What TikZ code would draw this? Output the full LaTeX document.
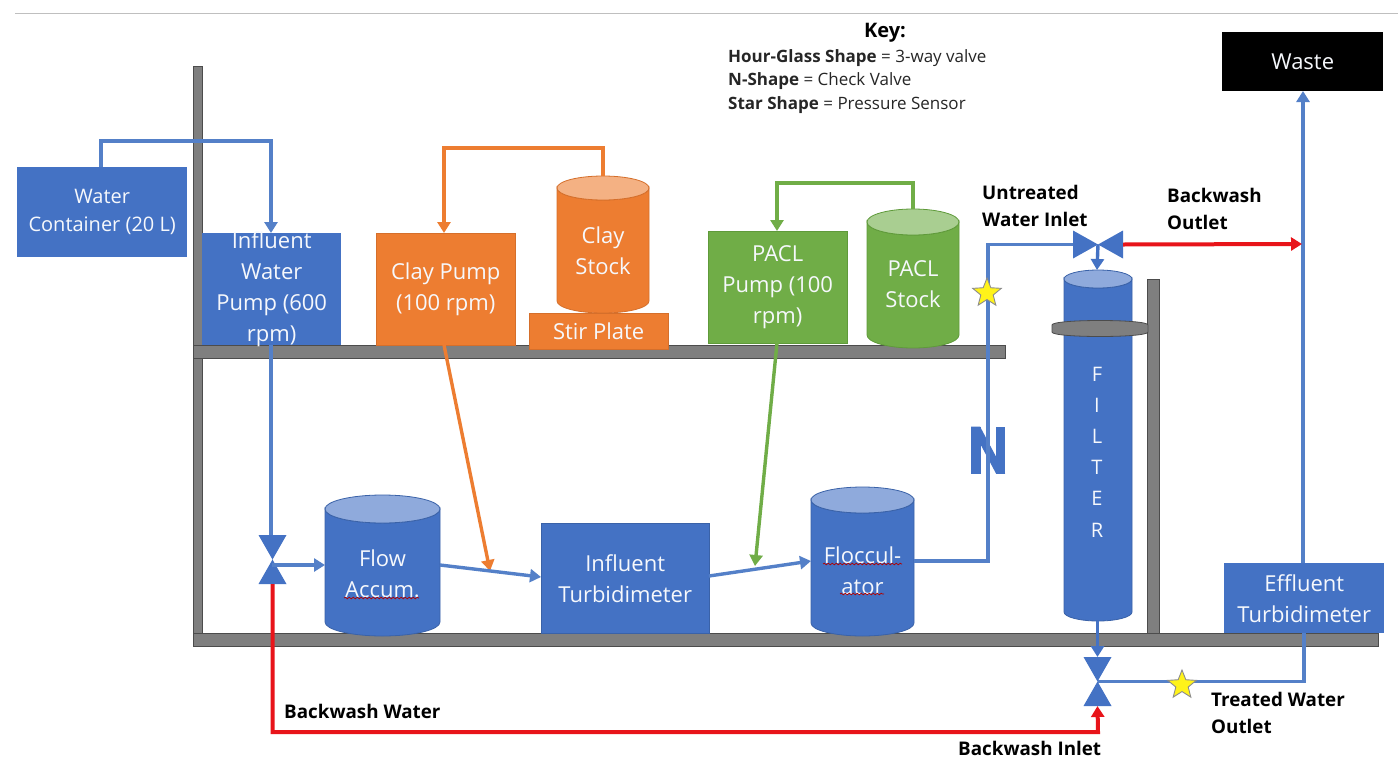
\documentclass[tikz,border=0pt]{standalone}
\usepackage{fontspec}
\setmainfont{Open Sans}
\usetikzlibrary{arrows.meta,shapes.geometric,calc,decorations.pathmorphing}
\definecolor{bl}{HTML}{4472C4}
\definecolor{bld}{HTML}{3A62A8}
\definecolor{lnb}{HTML}{5480C8}
\definecolor{or}{HTML}{ED7D31}
\definecolor{ord}{HTML}{D56F2B}
\definecolor{gr}{HTML}{70AD47}
\definecolor{grd}{HTML}{5F9A3A}
\definecolor{shelf}{HTML}{7F7F7F}
\definecolor{redl}{HTML}{E8141A}
\tikzset{
 lab/.style={font=\fontsize{22}{31}\selectfont,text=white!95!bl,align=center,inner sep=0pt},
 box/.style={lab,rectangle,minimum width=#1,anchor=north west},
 cylline/.style={line width=0.8pt},
 shelfbar/.style={fill=shelf,draw=black!70,line width=0.8pt},
 bold/.style={font=\fontsize{18.8}{27.5}\selectfont\bfseries,text=black,align=left,inner sep=0pt},
 keytxt/.style={font=\fontsize{17}{23.5}\selectfont,text=black!85,align=left,inner sep=0pt},
 pipe/.style={line width=3.4pt,draw=lnb},
 arr/.style={-{Triangle[width=13pt,length=11pt]}},
 hv/.style={rectangle,minimum width=28pt,minimum height=49pt,inner sep=0pt,outer sep=0pt,path picture={
   \fill[bl] (path picture bounding box.north west)--(path picture bounding box.north east)--(path picture bounding box.south west)--(path picture bounding box.south east)--cycle;}},
 hh/.style={rectangle,minimum width=50pt,minimum height=28pt,inner sep=0pt,outer sep=0pt,path picture={
   \fill[bl] (path picture bounding box.north west)--(path picture bounding box.south west)--(path picture bounding box.north east)--(path picture bounding box.south east)--cycle;}},
 sensor/.style={star,star points=5,star point ratio=2.3,minimum size=30pt,inner sep=0pt,fill=yellow!90!white,draw=black!45,line width=0.9pt},
 squig/.style={draw=red!70!black,line width=0.7pt,decorate,decoration={snake,amplitude=0.8pt,segment length=4pt}},
}
% name, cx, top, bottom, half width, cap radius, body, line, text offset
\newcommand{\cylnode}[9]{%
  \fill[#7,draw=#8,cylline] (#2-#5,#3+#6) arc[x radius=#5,y radius=#6,start angle=180,end angle=0]
     -- (#2+#5,#4-#6) arc[x radius=#5,y radius=#6,start angle=0,end angle=180] -- cycle;
  \fill[#7!60!white,draw=#8,cylline] (#2,#3+#6) ellipse[x radius=#5,y radius=#6];
  \node[lab,rectangle,minimum width=2*#5,minimum height=#4-#3-2*#9] (#1) at (#2,{(#3+#4)/2+#9}) {\cyltext};
}
\begin{document}
\begin{tikzpicture}[x=1pt,y=-1pt]
\useasboundingbox (0,0) rectangle (1398,782);
\fill[white] (0,0) rectangle (1398,782);
\draw[black!25,line width=1pt] (15,13) -- (1398,13);
% shelves
\draw[shelfbar] (193,66) rectangle (202,641);
\draw[shelfbar] (1147,279) rectangle (1159,633);
\draw[shelfbar] (193,345) rectangle (1005,358);
\draw[shelfbar] (193,633) rectangle (1378,646);
% boxes
\node[box=170pt,minimum height=90pt,fill=bl,font=\fontsize{20}{28}\selectfont] (water) at (17,167) {Water\\Container (20 L)};
\node[box=139pt,minimum height=112pt,inner ysep=-4pt,fill=bl] (ipump) at (202,233) {Influent\\Water\\Pump (600\\rpm)};
\node[box=139pt,minimum height=112pt,fill=or,draw=ord] (cpump) at (376,233) {Clay Pump\\(100 rpm)};
\node[box=139pt,minimum height=36pt,fill=or,draw=ord] (stir) at (529,313) {Stir Plate};
\node[box=139pt,minimum height=112pt,fill=gr,draw=grd] (ppump) at (708,231) {PACL\\Pump (100\\rpm)};
\node[box=168pt,minimum height=110pt,fill=bl,draw=bld] (itur) at (541,523) {Influent\\Turbidimeter};
\node[box=160pt,minimum height=70pt,fill=bl] (etur) at (1224,563) {Effluent\\Turbidimeter};
\node[box=161pt,minimum height=59pt,fill=black] (waste) at (1222,32) {Waste};
% cylinders
\def\cyltext{Clay\\Stock}\cylnode{cstock}{603}{176}{313}{46}{12}{or}{ord}{6}
\def\cyltext{PACL\\Stock}\cylnode{pstock}{913}{209}{348}{46}{13}{gr}{grd}{6}
\def\cyltext{Flow\\Accum.}\cylnode{accum}{382.5}{495}{636}{57.5}{14}{bl}{bld}{8}
\def\cyltext{Floccul-\\ator}\cylnode{floc}{862.5}{487}{636}{51.5}{13}{bl}{bld}{9}
\def\cyltext{}\cylnode{filter}{1098}{270}{621}{34}{9}{bl}{bld}{0}
\node[lab,font=\fontsize{20}{31.2}\selectfont] (filtxt) at (1097,452) {F\\I\\L\\T\\E\\R};
% filter ring
\draw[shelfbar] (1052,325) .. controls (1052,319) and (1148,319) .. (1148,325) -- (1148,332) .. controls (1148,338) and (1052,338) .. (1052,332) -- cycle;
% squiggles
\draw[squig] (344,598) -- (419,598);
\draw[squig] (823,564) -- (902,564);
\draw[squig] (840,594) -- (884,594);
% valves
\node[hv] (v1) at (272.5,559.5) {};
\node[hh] (v2) at (1098,244.5) {};
\node[hv] (v3) at (1097.5,681.5) {};
% check valve
\node[rectangle,minimum width=34pt,minimum height=47pt,inner sep=0pt,outer sep=0pt,path picture={
  \fill[bl] (path picture bounding box.north west) rectangle ++(9.5,47);
  \fill[bl] ($(path picture bounding box.north east)+(-9.5,0)$) rectangle ++(9.5,47);
  \fill[bl] (path picture bounding box.north west) -- ++(9,0) -- (path picture bounding box.south east) -- ++(-9,0) -- cycle;
}] (check) at (988,450) {};
% junction points
\coordinate (a1) at (101,167);
\coordinate (a2) at (271,233);
\coordinate (c1) at (603,176);
\coordinate (c2) at (444,233);
\coordinate (c3) at (444,345);
\coordinate (c4) at (490,571);
\coordinate (g1) at (913,209);
\coordinate (g2) at (777,231);
\coordinate (g3) at (777,343);
\coordinate (g4) at (755,566);
\coordinate (b1) at (271,345);
\coordinate (b2) at (272,565);
\coordinate (b3) at (325,565);
\coordinate (d1) at (440,565);
\coordinate (d2) at (541,577);
\coordinate (e1) at (709,576);
\coordinate (e2) at (811,561);
\coordinate (f1) at (914,561);
\coordinate (w1) at (1303,563);
\coordinate (w2) at (1303,91);
\coordinate (t1) at (1304,633);
\coordinate (r1) at (1302,244);
\coordinate (ftop) at (1097,270);
% pipes
\draw[pipe,arr] (a1) -- (101,141) -- (271,141) -- (a2);
\draw[pipe,or,arr] (c1) -- (603,148) -- (444,148) -- (c2);
\draw[pipe,gr,arr] (g1) -- (913,183) -- (777,183) -- (g2);
\draw[pipe,or,arr] (c3) -- (c4);
\draw[pipe,gr,arr] (g3) -- (g4);
\draw[pipe] (b1) -- (v1.north -| b1);
\draw[pipe,arr] (b2) -- (b3);
\draw[pipe,arr] (d1) -- (d2);
\draw[pipe,arr] (e1) -- (e2);
\draw[pipe] (f1) -- (988,561) -- (988,244.5) -- (v2.west);
\draw[pipe,draw=bl,arr] (v2.center) -- (ftop);
\draw[pipe,arr] (w1) -- (w2);
\draw[pipe,draw=bl,arr] (filter.south -| v3.north) -- (v3.north);
\draw[pipe] (v3.center) -- (1304,681.5) -- (t1);
\draw[pipe,redl,line width=4pt,arr] (v2.east) -- (r1);
\draw[pipe,redl,line width=4pt,arr] (v1.south) -- (272.5,732) -- (1098,732) -- (v3.south);
% sensors
\node[sensor] (s1) at (987,293) {};
\node[sensor] (s2) at (1182,685) {};
% labels
\node[bold,font=\fontsize{20}{28}\selectfont\bfseries] (keyt) at (885,33) {Key:};
\node[keytxt,anchor=north west] (keyb) at (728,49) {\textbf{Hour-Glass Shape} = 3-way valve\\\textbf{N-Shape} = Check Valve\\\textbf{Star Shape} = Pressure Sensor};
\node[bold,anchor=north west] (l1) at (982,185) {Untreated\\Water Inlet};
\node[bold,anchor=north west] (l2) at (1167,188) {Backwash\\Outlet};
\node[bold,anchor=north west] (l3) at (284,704) {Backwash Water};
\node[bold,anchor=north west] (l4) at (958,741) {Backwash Inlet};
\node[bold,anchor=north west] (l5) at (1211,692) {Treated Water\\Outlet};
\end{tikzpicture}
\end{document}
